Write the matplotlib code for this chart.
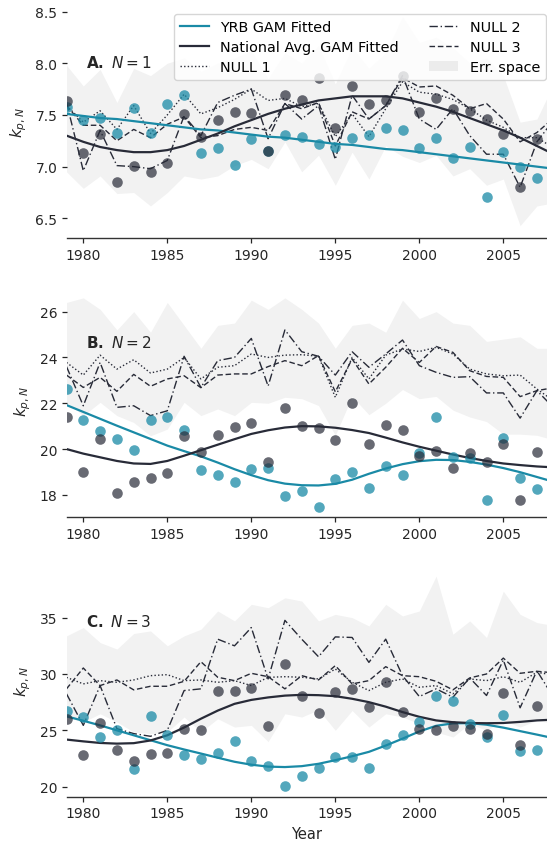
import numpy as np
import matplotlib
matplotlib.use("Agg")
import matplotlib.pyplot as plt
from matplotlib.patches import Patch
from matplotlib.lines import Line2D

plt.rcParams['font.family'] = ['DejaVu Sans']

years = list(range(1979, 2008))          # observed points
years_ext = list(range(1979, 2009))      # lines / band (run to right edge)

# ---------------- Panel A (N = 1) ----------------
yrb_a = [7.58, 7.45, 7.47, 7.33, 7.57, 7.33, 7.61, 7.69, 7.13, 7.18, 7.02, 7.27, 7.15, 7.31, 7.29,
         7.22, 7.19, 7.28, 7.31, 7.37, 7.35, 7.18, 7.28, 7.08, 7.19, 6.71, 7.14, 7.00, 6.89]
nat_a = [7.63, 7.13, 7.32, 6.85, 7.01, 6.95, 7.04, 7.51, 7.29, 7.45, 7.53, 7.52, 7.15, 7.69, 7.64,
         7.86, 7.37, 7.78, 7.61, 7.64, 7.88, 7.53, 7.66, 7.56, 7.54, 7.46, 7.32, 6.80, 7.27]
yrb_fit_a = [7.51, 7.49, 7.47, 7.46, 7.44, 7.42, 7.40, 7.38, 7.36, 7.35, 7.33, 7.31, 7.29, 7.28, 7.26,
             7.24, 7.22, 7.21, 7.19, 7.17, 7.16, 7.14, 7.12, 7.10, 7.08, 7.06, 7.04, 7.02, 7.00, 6.98]
nat_fit_a = [7.30, 7.24, 7.19, 7.16, 7.14, 7.14, 7.16, 7.20, 7.26, 7.32, 7.39, 7.45, 7.51, 7.56, 7.60,
             7.64, 7.66, 7.68, 7.68, 7.68, 7.66, 7.62, 7.58, 7.53, 7.47, 7.41, 7.35, 7.28, 7.20, 7.12]
null1_a = [7.59, 7.43, 7.54, 7.36, 7.59, 7.32, 7.50, 7.70, 7.51, 7.57, 7.65, 7.75, 7.64, 7.66, 7.58,
           7.61, 7.29, 7.51, 7.29, 7.56, 7.82, 7.72, 7.70, 7.65, 7.56, 7.45, 7.38, 7.28, 7.28, 7.18]
null2_a = [7.62, 6.96, 7.35, 7.01, 7.00, 6.98, 7.06, 7.49, 7.30, 7.62, 7.69, 7.75, 7.27, 7.61, 7.46,
           7.59, 7.07, 7.69, 7.46, 7.59, 7.88, 7.46, 7.36, 7.56, 7.30, 7.12, 7.12, 6.80, 7.24, 7.45]
null3_a = [7.59, 7.40, 7.40, 7.25, 7.36, 7.28, 7.41, 7.48, 7.28, 7.30, 7.36, 7.38, 7.35, 7.61, 7.56,
           7.62, 7.20, 7.53, 7.46, 7.59, 7.86, 7.77, 7.78, 7.69, 7.56, 7.61, 7.46, 7.24, 7.33, 7.47]
err_hi_a = [7.98, 7.78, 7.94, 7.62, 7.95, 7.88, 8.00, 8.05, 7.92, 8.00, 8.05, 8.12, 7.85, 8.10, 8.00,
            8.17, 7.80, 8.15, 7.95, 8.10, 8.45, 8.20, 8.25, 8.15, 8.00, 8.05, 7.88, 7.43, 7.46, 7.80]
err_lo_a = [6.95, 6.79, 6.91, 6.74, 6.75, 6.62, 6.75, 6.91, 6.88, 6.91, 7.01, 7.07, 6.98, 7.24, 6.95,
            7.11, 6.82, 7.14, 6.88, 7.20, 7.10, 7.04, 7.11, 6.91, 6.98, 6.82, 6.88, 6.43, 6.62, 6.65]

# ---------------- Panel B (N = 2) ----------------
yrb_b = [22.62, 21.28, 20.80, 20.44, 19.96, 21.28, 21.41, 20.83, 19.08, 18.88, 18.54, 19.13, 19.16,
         17.93, 18.18, 17.45, 18.69, 19.01, 18.28, 19.24, 18.88, 19.83, 21.38, 19.64, 19.59, 17.79,
         20.47, 18.73, 18.25]
nat_b = [21.41, 19.01, 20.44, 18.06, 18.57, 18.72, 18.94, 20.58, 19.85, 20.63, 20.98, 21.15, 19.45,
         21.79, 20.99, 20.90, 20.39, 22.01, 20.22, 21.05, 20.82, 19.71, 19.93, 19.16, 19.81, 19.45,
         20.22, 17.79, 19.88]
yrb_fit_b = [21.92, 21.62, 21.32, 21.02, 20.73, 20.44, 20.15, 19.91, 19.68, 19.41, 19.12, 18.86, 18.64,
             18.49, 18.42, 18.41, 18.48, 18.66, 18.92, 19.15, 19.34, 19.47, 19.53, 19.52, 19.44, 19.32,
             19.17, 18.99, 18.78, 18.57]
nat_fit_b = [20.00, 19.80, 19.64, 19.48, 19.37, 19.35, 19.48, 19.71, 19.95, 20.19, 20.43, 20.66, 20.82,
             20.94, 21.00, 20.99, 20.93, 20.83, 20.70, 20.50, 20.29, 20.10, 19.93, 19.76, 19.61, 19.48,
             19.37, 19.30, 19.24, 19.20]
null1_b = [23.78, 23.23, 24.10, 23.49, 23.90, 23.32, 23.49, 24.00, 23.06, 23.57, 23.64, 24.15, 24.00,
           24.10, 24.12, 24.05, 22.26, 24.00, 23.06, 24.10, 24.37, 24.26, 24.44, 24.15, 23.49, 23.28,
           23.20, 23.23, 22.62, 22.10]
null2_b = [23.60, 21.89, 23.78, 21.82, 21.89, 21.46, 21.67, 24.05, 22.69, 23.86, 24.00, 24.83, 22.75,
           25.20, 24.25, 24.05, 23.23, 24.25, 23.57, 24.15, 24.76, 23.64, 23.35, 23.13, 23.16, 22.45,
           22.45, 21.35, 22.55, 21.80]
null3_b = [23.23, 22.69, 23.13, 22.52, 23.26, 22.74, 23.06, 23.20, 22.68, 23.23, 23.28, 23.28, 23.60,
           23.86, 23.64, 24.08, 22.50, 23.93, 22.84, 23.57, 24.40, 23.78, 24.48, 24.22, 23.42, 23.17,
           23.13, 22.29, 22.55, 22.68]
err_hi_b = [26.40, 26.60, 26.10, 25.20, 26.00, 25.10, 26.40, 25.40, 24.40, 25.40, 25.50, 26.50, 26.10,
            26.60, 26.10, 25.50, 24.40, 25.40, 25.50, 25.10, 26.50, 25.70, 26.00, 25.50, 25.40, 24.70,
            24.80, 24.90, 24.40, 24.40]
err_lo_b = [22.04, 21.46, 22.04, 21.46, 21.16, 20.58, 20.87, 22.04, 21.46, 21.75, 21.46, 22.04, 22.00,
            22.26, 22.20, 21.90, 20.60, 22.30, 21.50, 22.00, 22.60, 22.20, 22.30, 21.70, 21.40, 21.20,
            20.65, 20.65, 20.60, 20.40]

# ---------------- Panel C (N = 3) ----------------
yrb_c = [26.70, 26.18, 24.41, 25.00, 21.56, 26.24, 24.56, 22.79, 22.44, 23.03, 24.06, 22.29, 21.82,
         20.09, 20.94, 21.62, 22.59, 22.65, 21.68, 23.76, 24.62, 25.74, 28.03, 27.59, 25.59, 24.41,
         26.38, 23.18, 23.29]
nat_c = [26.03, 22.79, 25.65, 23.24, 22.29, 22.94, 23.03, 25.09, 25.00, 28.47, 28.47, 28.76, 25.35,
         30.88, 28.09, 26.56, 28.44, 28.68, 27.06, 29.26, 26.62, 25.15, 25.00, 25.38, 25.15, 24.71,
         28.32, 23.68, 27.12]
yrb_fit_c = [26.24, 25.85, 25.44, 25.00, 24.56, 24.12, 23.68, 23.30, 22.94, 22.57, 22.21, 21.95, 21.78,
             21.74, 21.82, 22.03, 22.35, 22.70, 23.09, 23.65, 24.26, 24.90, 25.40, 25.62, 25.64, 25.50,
             25.24, 24.93, 24.62, 24.30]
nat_fit_c = [24.18, 24.02, 23.88, 23.82, 23.86, 24.10, 24.56, 25.25, 26.03, 26.75, 27.35, 27.70, 27.92,
             28.08, 28.15, 28.12, 28.03, 27.80, 27.50, 27.10, 26.62, 26.20, 25.88, 25.72, 25.65, 25.63,
             25.65, 25.75, 25.88, 25.95]
null1_c = [29.70, 29.12, 29.41, 29.26, 29.47, 29.85, 29.94, 29.41, 29.47, 29.26, 29.41, 28.97, 29.70,
           29.76, 29.71, 29.56, 30.44, 29.26, 28.53, 29.26, 29.56, 28.82, 28.97, 28.24, 29.56, 29.41,
           29.76, 29.26, 30.15, 29.90]
null2_c = [28.24, 25.44, 28.97, 25.15, 24.71, 24.47, 25.00, 28.53, 28.68, 33.09, 32.50, 34.12, 29.56,
           34.76, 33.09, 31.53, 33.29, 33.24, 31.03, 33.09, 29.85, 28.00, 28.68, 27.94, 29.65, 28.09,
           31.24, 27.00, 30.29, 27.90]
null3_c = [28.68, 30.53, 28.97, 29.47, 28.59, 28.91, 28.91, 29.35, 31.09, 29.71, 29.41, 30.06, 29.76,
           28.68, 29.85, 29.47, 30.74, 29.12, 29.41, 30.65, 29.85, 29.76, 29.35, 28.59, 29.65, 30.00,
           31.41, 30.06, 30.24, 30.10]
err_hi_c = [33.38, 34.12, 32.79, 32.21, 33.59, 33.82, 32.50, 33.38, 33.97, 35.59, 34.71, 36.18, 35.88,
            36.76, 36.47, 34.71, 35.29, 35.00, 34.26, 36.18, 35.15, 35.59, 38.68, 33.53, 34.71, 33.24,
            37.35, 35.29, 34.56, 34.30]
err_lo_c = [26.18, 25.74, 26.47, 25.74, 24.85, 24.71, 24.85, 26.18, 24.85, 26.03, 25.29, 25.44, 24.00,
            26.47, 26.18, 26.82, 25.00, 26.76, 25.29, 26.47, 26.18, 25.59, 24.85, 24.41, 25.59, 25.00,
            25.88, 25.29, 25.88, 25.60]

panels = [
    dict(tag="A.", n=1, yrb=yrb_a, nat=nat_a, yfit=yrb_fit_a, nfit=nat_fit_a,
         n1=null1_a, n2=null2_a, n3=null3_a, hi=err_hi_a, lo=err_lo_a,
         ylim=(6.31, 8.56), yticks=[6.5, 7.0, 7.5, 8.0, 8.5], fmt="{:.1f}"),
    dict(tag="B.", n=2, yrb=yrb_b, nat=nat_b, yfit=yrb_fit_b, nfit=nat_fit_b,
         n1=null1_b, n2=null2_b, n3=null3_b, hi=err_hi_b, lo=err_lo_b,
         ylim=(17.02, 27.18), yticks=[18, 20, 22, 24, 26], fmt="{:d}"),
    dict(tag="C.", n=3, yrb=yrb_c, nat=nat_c, yfit=yrb_fit_c, nfit=nat_fit_c,
         n1=null1_c, n2=null2_c, n3=null3_c, hi=err_hi_c, lo=err_lo_c,
         ylim=(19.11, 39.76), yticks=[20, 25, 30, 35], fmt="{:d}"),
]

TEAL = "#1a8aa6"
DARK = "#282b38"
BAND = "#f2f2f2"
TXT = "#262626"

W, H = 547, 845
fig = plt.figure(figsize=(W / 100, H / 100), dpi=100)

bottoms_px = [239.0, 518.3, 797.7]
ax_h_px = 232.7
left_px = 66.5

axes = []
for p, bpx in zip(panels, bottoms_px):
    ax = fig.add_axes([left_px / W, 1 - bpx / H, (W - left_px) / W, ax_h_px / H])
    axes.append(ax)
    ax.fill_between(years_ext, p["lo"], p["hi"], color=BAND, lw=0, zorder=0)
    ax.plot(years_ext, p["n1"], color=DARK, lw=1.0, ls=(0, (1, 1.6)), zorder=1)
    ax.plot(years_ext, p["n2"], color=DARK, lw=1.0, ls=(0, (6, 2, 1, 2)), zorder=1)
    ax.plot(years_ext, p["n3"], color=DARK, lw=1.0, ls=(0, (4, 2)), zorder=1)
    ax.plot(years_ext, p["yfit"], color=TEAL, lw=1.6, zorder=2)
    ax.plot(years_ext, p["nfit"], color=DARK, lw=1.6, zorder=2)
    ax.scatter(years, p["yrb"], s=58, color=TEAL, alpha=0.75, lw=0, zorder=3)
    ax.scatter(years, p["nat"], s=58, color=DARK, alpha=0.70, lw=0, zorder=3)

    ax.set_xlim(1979, 2007.6)
    ax.set_ylim(*p["ylim"])
    ax.set_xticks([1980, 1985, 1990, 1995, 2000, 2005])
    ax.set_yticks(p["yticks"])
    ax.set_yticklabels([p["fmt"].format(v) for v in p["yticks"]])
    for s in ["top", "right", "left"]:
        ax.spines[s].set_visible(False)
    ax.spines["bottom"].set_color("#333333")
    ax.spines["bottom"].set_linewidth(1.0)
    ax.tick_params(axis="both", labelsize=10, colors=TXT, width=0.9)
    ax.tick_params(axis="y", length=3.5, pad=3)
    ax.tick_params(axis="x", length=3.5, pad=3.5)
    ax.set_ylabel(r"$k_{p,N}$", fontsize=11, color=TXT, labelpad=5)
    ax.text(0.04, 0.755, r"$\mathbf{%s}$ $N=%d$" % (p["tag"], p["n"]),
            transform=ax.transAxes, fontsize=11, va="center", ha="left", color=TXT)

axes[-1].set_xlabel("Year", fontsize=10.5, color=TXT, labelpad=4)

handles = [
    Line2D([], [], color=TEAL, lw=1.6),
    Line2D([], [], color=DARK, lw=1.6),
    Line2D([], [], color=DARK, lw=1.0, ls=(0, (1, 1.6))),
    Line2D([], [], color=DARK, lw=1.0, ls=(0, (6, 2, 1, 2))),
    Line2D([], [], color=DARK, lw=1.0, ls=(0, (4, 2))),
    Patch(facecolor="#ececec", edgecolor="none"),
]
labels = ["YRB GAM Fitted", "National Avg. GAM Fitted", "NULL 1",
          "NULL 2", "NULL 3", "Err. space"]
leg = axes[0].legend(handles, labels, ncol=2, loc="upper right",
                     bbox_to_anchor=(0.998, 0.963), borderaxespad=0,
                     fontsize=10.4, frameon=True, framealpha=0.8,
                     columnspacing=2.1, handlelength=2.0, labelspacing=0.42)
leg.get_frame().set_edgecolor("#cccccc")
leg.set_zorder(10)

fig.savefig("out.png", dpi=100)
